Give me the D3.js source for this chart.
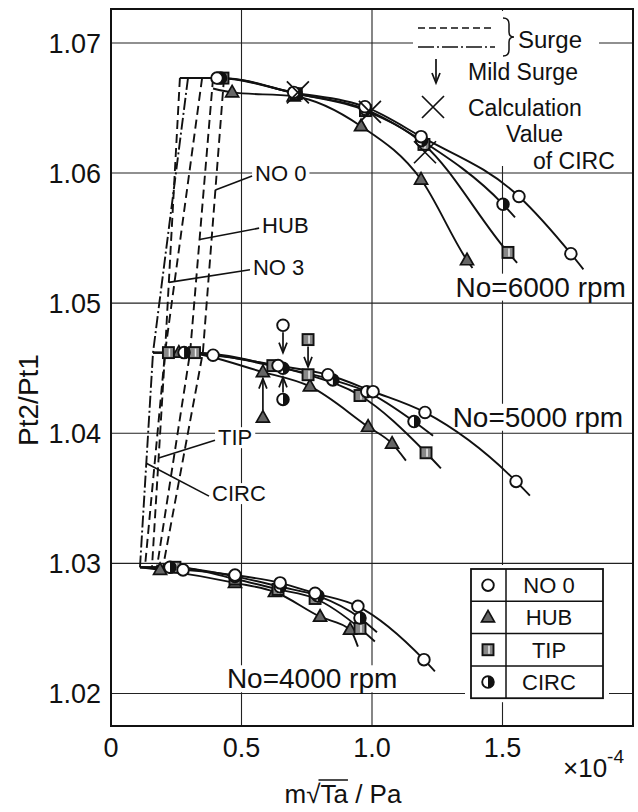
<!DOCTYPE html>
<html>
<head>
<meta charset="utf-8">
<script src="https://cdn.jsdelivr.net/npm/d3@7"></script>
<style>
  body { margin: 0; background: #fff; }
  svg { display: block; }
  text { font-family: "Liberation Sans", Arial, sans-serif; fill: #111; }
</style>
</head>
<body>
<svg width="638" height="812"></svg>
<script>
// axis ticks
var xTicks = [0, 0.5, 1.0, 1.5];
var xTickLabels = ["0", "0.5", "1.0", "1.5"];
var yTicks = [1.02, 1.03, 1.04, 1.05, 1.06, 1.07];
var yTickLabels = ["1.02", "1.03", "1.04", "1.05", "1.06", "1.07"];

// series: NO 0, HUB, TIP, CIRC  -> [m sqrt(Ta)/Pa (x1e-4), Pt2/Pt1]
var seriesNames = ["NO 0", "HUB", "TIP", "CIRC"];
var seriesMarks = ["circle", "triangle", "square", "half"];

// No = 6000 rpm
var no0_6000 = [[0.406, 1.0673], [0.70, 1.0662], [0.973, 1.0651], [1.188, 1.0628], [1.563, 1.0582], [1.762, 1.0538]];
var hub_6000 = [[0.464, 1.0662], [0.70, 1.0659], [0.958, 1.0636], [1.188, 1.0595], [1.364, 1.0533]];
var tip_6000 = [[0.429, 1.0673], [0.71, 1.0661], [0.975, 1.0648], [1.199, 1.0622], [1.521, 1.0539]];
var circ_6000 = [[0.42, 1.0673], [0.71, 1.0661], [0.975, 1.0649], [1.19, 1.0625], [1.502, 1.0576]];
var start6000 = [[0.264, 1.0673], [0.391, 1.0665], [0.264, 1.0673], [0.264, 1.0673]];
var end6000 = [[1.81, 1.0526], [1.385, 1.0527], [1.556, 1.0531], [1.548, 1.0566]];

// No = 5000 rpm
var no0_5000 = [[0.391, 1.0460], [0.64, 1.0452], [0.831, 1.0445], [1.004, 1.0432], [1.203, 1.0416], [1.552, 1.0363]];
var hub_5000 = [[0.26, 1.0462], [0.582, 1.0447], [0.762, 1.0436], [0.985, 1.0405], [1.077, 1.0392]];
var tip_5000 = [[0.22, 1.0462], [0.32, 1.0462], [0.62, 1.0452], [0.755, 1.0445], [0.954, 1.0429], [1.207, 1.0385]];
var circ_5000 = [[0.28, 1.0462], [0.659, 1.0450], [0.85, 1.0441], [0.98, 1.0432], [1.161, 1.0409]];
var start5000 = [[0.161, 1.0462], [0.161, 1.0462], [0.161, 1.0462], [0.161, 1.0462]];
var end5000 = [[1.605, 1.0352], [1.13, 1.0379], [1.264, 1.0373], [1.234, 1.0398]];

// No = 4000 rpm
var no0_4000 = [[0.276, 1.0295], [0.475, 1.0291], [0.648, 1.0285], [0.782, 1.0277], [0.946, 1.0267], [1.199, 1.0226]];
var hub_4000 = [[0.188, 1.0295], [0.475, 1.0285], [0.628, 1.0278], [0.801, 1.0259], [0.916, 1.0249]];
var tip_4000 = [[0.245, 1.0297], [0.475, 1.0288], [0.64, 1.0280], [0.782, 1.0273], [0.954, 1.0250]];
var circ_4000 = [[0.226, 1.0297], [0.475, 1.0290], [0.648, 1.0282], [0.793, 1.0275], [0.954, 1.0258]];
var start4000 = [[0.111, 1.0297], [0.111, 1.0297], [0.111, 1.0297], [0.111, 1.0297]];
var end4000 = [[1.241, 1.0217], [0.946, 1.0236], [1.011, 1.0240], [1.019, 1.0247]];

// mild surge arrows (5000 rpm): series, x, marker y, arrow tip y
var mildSeries = ["NO 0", "TIP", "HUB", "CIRC"];
var mildX = [0.659, 0.755, 0.582, 0.659];
var mildMarkY = [1.0483, 1.0472, 1.0412, 1.0426];
var mildTipY = [1.0462, 1.0451, 1.0442, 1.0443];

// calculation value of CIRC (6000 rpm)
var calcX = [0.716, 0.992, 1.203];
var calcY = [1.0662, 1.0647, 1.0616];

// surge lines through the three speed levels
var surgeLevels = [1.0673, 1.0462, 1.0297];
var surgeNames = ["NO 0", "HUB", "TIP", "NO 3", "CIRC"];
var surgeTopX = [0.433, 0.391, 0.349, 0.264, 0.295];
var surgeMidX = [0.352, 0.303, 0.207, 0.207, 0.161];
var surgeBotX = [0.199, 0.176, 0.157, 0.130, 0.111];
var surgeDash = ["9,5", "9,5", "9,5", "9,5", "12,3,2,3"];
// label position (x, y) and where its leader meets the line (Pt2/Pt1)
var surgeLabelX = [0.552, 0.579, 0.410, 0.544, 0.387];
var surgeLabelY = [1.0600, 1.0560, 1.0397, 1.0528, 1.0354];
var surgeLeaderY = [1.0587, 1.0549, 1.0381, 1.0516, 1.0377];

var speedLabels = ["No=6000 rpm", "No=5000 rpm", "No=4000 rpm"];

(function() {
  var svg = d3.select("svg"),
      m = {left: 111, right: 633, top: 9, bottom: 726};

  var x = d3.scaleLinear().domain([0, 2.0]).range([m.left, m.right]);
  var y = d3.scaleLinear().domain([1.0175, 1.07261]).range([m.bottom, m.top]);

  var gGrid = svg.append("g"),
      gMask = svg.append("g"),
      gLines = svg.append("g"),
      gMarks = svg.append("g"),
      gText = svg.append("g");

  // grid
  gGrid.selectAll(".gx").data(xTicks.slice(1)).enter().append("line")
    .attr("x1", function(d) { return x(d); }).attr("x2", function(d) { return x(d); })
    .attr("y1", m.top).attr("y2", m.bottom)
    .attr("stroke", "#222").attr("stroke-width", 1.1);
  gGrid.selectAll(".gy").data(yTicks).enter().append("line")
    .attr("x1", m.left).attr("x2", m.right)
    .attr("y1", function(d) { return y(d); }).attr("y2", function(d) { return y(d); })
    .attr("stroke", "#222").attr("stroke-width", 1.1);

  // tick labels
  gText.selectAll(".ty").data(yTicks).enter().append("text")
    .attr("x", m.left - 10).attr("y", function(d) { return y(d); })
    .attr("dy", "0.36em").attr("text-anchor", "end")
    .attr("font-size", 27)
    .text(function(d, i) { return yTickLabels[i]; });
  gText.selectAll(".tx").data(xTicks).enter().append("text")
    .attr("x", function(d) { return x(d); }).attr("y", 757)
    .attr("text-anchor", "middle").attr("font-size", 27)
    .text(function(d, i) { return xTickLabels[i]; });

  var expo = gText.append("text").attr("x", 563).attr("y", 777).attr("font-size", 26);
  expo.append("tspan").text("×10");
  expo.append("tspan").attr("dy", -14).attr("font-size", 19).text("-4");

  // axis titles
  gText.append("text")
    .attr("transform", "translate(38,400) rotate(-90)")
    .attr("text-anchor", "middle").attr("font-size", 28)
    .text("Pt2/Pt1");

  var xt = gText.append("text").attr("x", 343).attr("y", 803)
    .attr("text-anchor", "middle").attr("font-size", 26)
    .text("m√Ta / Pa");
  var tNode = xt.node();
  var s0 = tNode.getExtentOfChar(2), s1 = tNode.getExtentOfChar(3);
  gText.append("line")
    .attr("x1", s0.x - 2).attr("x2", s1.x + s1.width)
    .attr("y1", s0.y + 1).attr("y2", s0.y + 1)
    .attr("stroke", "#111").attr("stroke-width", 1.5);

  // frame
  svg.append("rect").attr("x", m.left).attr("y", m.top)
    .attr("width", m.right - m.left).attr("height", m.bottom - m.top)
    .attr("fill", "none").attr("stroke", "#111").attr("stroke-width", 2);

  function label(px, py, txt, size, anchor) {
    var t = gText.append("text").attr("x", px).attr("y", py)
      .attr("font-size", size).attr("text-anchor", anchor || "start").text(txt);
    var b = t.node().getBBox();
    gMask.append("rect").attr("x", b.x - 3).attr("y", b.y + 2)
      .attr("width", b.width + 6).attr("height", b.height - 4).attr("fill", "#fff");
    return t;
  }

  // surge lines
  var surgeLine = d3.line().x(function(d) { return x(d[0]); }).y(function(d) { return y(d[1]); });
  surgeNames.forEach(function(name, i) {
    var pts = [[surgeTopX[i], surgeLevels[0]], [surgeMidX[i], surgeLevels[1]], [surgeBotX[i], surgeLevels[2]]];
    gLines.append("path").attr("d", surgeLine(pts))
      .attr("fill", "none").attr("stroke", "#111").attr("stroke-width", 1.9)
      .attr("stroke-dasharray", surgeDash[i]);
    // leader target on the line
    var ly = surgeLeaderY[i], lx;
    if (ly >= surgeLevels[1]) {
      var f = (surgeLevels[0] - ly) / (surgeLevels[0] - surgeLevels[1]);
      lx = surgeTopX[i] + f * (surgeMidX[i] - surgeTopX[i]);
    } else {
      var f2 = (surgeLevels[1] - ly) / (surgeLevels[1] - surgeLevels[2]);
      lx = surgeMidX[i] + f2 * (surgeBotX[i] - surgeMidX[i]);
    }
    var tx = x(surgeLabelX[i]), ty = y(surgeLabelY[i]);
    label(tx, ty + 8, name, 22);
    gLines.append("line")
      .attr("x1", tx - 3).attr("y1", ty + 3)
      .attr("x2", x(lx)).attr("y2", y(ly))
      .attr("stroke", "#111").attr("stroke-width", 1.6);
  });

  // performance curves
  var curveLine = d3.line()
    .x(function(d) { return x(d[0]); }).y(function(d) { return y(d[1]); })
    .curve(d3.curveMonotoneX);

  var speeds = [
    {pts: [no0_6000, hub_6000, tip_6000, circ_6000], start: start6000, end: end6000},
    {pts: [no0_5000, hub_5000, tip_5000, circ_5000], start: start5000, end: end5000},
    {pts: [no0_4000, hub_4000, tip_4000, circ_4000], start: start4000, end: end4000}
  ];

  function marker(g, type, cx, cy) {
    if (type === "circle") {
      g.append("circle").attr("cx", cx).attr("cy", cy).attr("r", 5.8)
        .attr("fill", "#fff").attr("stroke", "#111").attr("stroke-width", 1.9);
    } else if (type === "triangle") {
      g.append("path")
        .attr("d", "M" + cx + "," + (cy - 7) + "L" + (cx + 6.5) + "," + (cy + 4.5) + "L" + (cx - 6.5) + "," + (cy + 4.5) + "Z")
        .attr("fill", "#666").attr("stroke", "#111").attr("stroke-width", 1.7);
    } else if (type === "square") {
      g.append("rect").attr("x", cx - 5.5).attr("y", cy - 5.5).attr("width", 11).attr("height", 11)
        .attr("fill", "#888").attr("stroke", "#111").attr("stroke-width", 1.9);
      g.append("line").attr("x1", cx + 1).attr("x2", cx + 1).attr("y1", cy - 4).attr("y2", cy + 4)
        .attr("stroke", "#eee").attr("stroke-width", 1.5);
    } else {
      g.append("circle").attr("cx", cx).attr("cy", cy).attr("r", 5.8)
        .attr("fill", "#fff").attr("stroke", "#111").attr("stroke-width", 1.9);
      g.append("path")
        .attr("d", "M" + cx + "," + (cy - 5.8) + "A5.8,5.8 0 0 1 " + cx + "," + (cy + 5.8) + "Z")
        .attr("fill", "#111");
    }
  }

  speeds.forEach(function(sp) {
    sp.pts.forEach(function(pts, i) {
      var all = [sp.start[i]].concat(pts).concat([sp.end[i]]);
      gLines.append("path").attr("d", curveLine(all))
        .attr("fill", "none").attr("stroke", "#111").attr("stroke-width", 1.9);
    });
  });
  // draw markers so circles sit on top
  speeds.forEach(function(sp) {
    [1, 2, 3, 0].forEach(function(i) {
      sp.pts[i].forEach(function(d) { marker(gMarks, seriesMarks[i], x(d[0]), y(d[1])); });
    });
  });

  // calculation values
  function cross(g, cx, cy, h) {
    g.append("path")
      .attr("d", "M" + (cx - h) + "," + (cy - h) + "L" + (cx + h) + "," + (cy + h) +
                 "M" + (cx - h) + "," + (cy + h) + "L" + (cx + h) + "," + (cy - h))
      .attr("stroke", "#111").attr("stroke-width", 1.7).attr("fill", "none");
  }
  calcX.forEach(function(d, i) { cross(gMarks, x(d), y(calcY[i]), 11); });

  // mild surge arrows
  function arrow(g, x1, y1, x2, y2) {
    g.append("line").attr("x1", x1).attr("y1", y1).attr("x2", x2).attr("y2", y2)
      .attr("stroke", "#111").attr("stroke-width", 1.7);
    var dir = y2 > y1 ? -1 : 1;
    g.append("path")
      .attr("d", "M" + (x2 - 4) + "," + (y2 + dir * 10) + "L" + x2 + "," + y2 + "L" + (x2 + 4) + "," + (y2 + dir * 10))
      .attr("stroke", "#111").attr("stroke-width", 1.7).attr("fill", "none");
  }
  mildSeries.forEach(function(s, i) {
    var k = seriesNames.indexOf(s);
    var mx = x(mildX[i]), my = y(mildMarkY[i]), ty = y(mildTipY[i]);
    var off = ty > my ? 7 : -7;
    arrow(gMarks, mx, my + off, mx, ty);
    marker(gMarks, seriesMarks[k], mx, my);
  });

  // speed labels
  label(x(1.973), y(1.0505), speedLabels[0], 28, "end");
  label(x(1.962), y(1.0405), speedLabels[1], 28, "end");
  label(x(0.444), y(1.0204), speedLabels[2], 28, "start");

  // top right legend
  gMask.append("rect").attr("x", 413).attr("y", 11).attr("width", 186).attr("height", 155).attr("fill", "#fff");
  gText.append("line").attr("x1", 418).attr("x2", 495).attr("y1", 28).attr("y2", 28)
    .attr("stroke", "#111").attr("stroke-width", 1.6).attr("stroke-dasharray", "7,4");
  gText.append("line").attr("x1", 418).attr("x2", 495).attr("y1", 47).attr("y2", 47)
    .attr("stroke", "#111").attr("stroke-width", 1.6).attr("stroke-dasharray", "16,3,2,3");
  gText.append("path").attr("d", "M503,18 q6,0 6,6 v8 q0,5 5,5 q-5,0 -5,5 v8 q0,6 -6,6")
    .attr("fill", "none").attr("stroke", "#111").attr("stroke-width", 1.5);
  gText.append("text").attr("x", 518).attr("y", 48).attr("font-size", 24).text("Surge");
  arrow(gText, 436, 59, 436, 83);
  gText.append("text").attr("x", 468).attr("y", 80).attr("font-size", 23).text("Mild Surge");
  cross(gText, 433, 107, 11);
  gText.append("text").attr("x", 468).attr("y", 116).attr("font-size", 23).text("Calculation");
  gText.append("text").attr("x", 506).attr("y", 142).attr("font-size", 23).text("Value");
  gText.append("text").attr("x", 533).attr("y", 169).attr("font-size", 23).text("of  CIRC");

  // bottom right legend box
  var lgX = 471, lgY = 569, lgW = 132, rowH = 32.3;
  gMask.append("rect").attr("x", lgX - 6).attr("y", lgY - 4).attr("width", lgW + 12).attr("height", rowH * 4 + 8).attr("fill", "#fff");
  var lg = gText.append("g");
  lg.append("rect").attr("x", lgX).attr("y", lgY).attr("width", lgW).attr("height", rowH * 4)
    .attr("fill", "none").attr("stroke", "#111").attr("stroke-width", 1.8);
  lg.append("line").attr("x1", lgX + 35).attr("x2", lgX + 35).attr("y1", lgY).attr("y2", lgY + rowH * 4)
    .attr("stroke", "#111").attr("stroke-width", 1.5);
  seriesNames.forEach(function(n, i) {
    if (i > 0) {
      lg.append("line").attr("x1", lgX).attr("x2", lgX + lgW)
        .attr("y1", lgY + rowH * i).attr("y2", lgY + rowH * i)
        .attr("stroke", "#111").attr("stroke-width", 1.5);
    }
    var cy = lgY + rowH * i + rowH / 2;
    marker(lg, seriesMarks[i], lgX + 17, cy);
    lg.append("text").attr("x", lgX + 78).attr("y", cy).attr("dy", "0.36em")
      .attr("text-anchor", "middle").attr("font-size", 22).text(n);
  });
})();
</script>
</body>
</html>
